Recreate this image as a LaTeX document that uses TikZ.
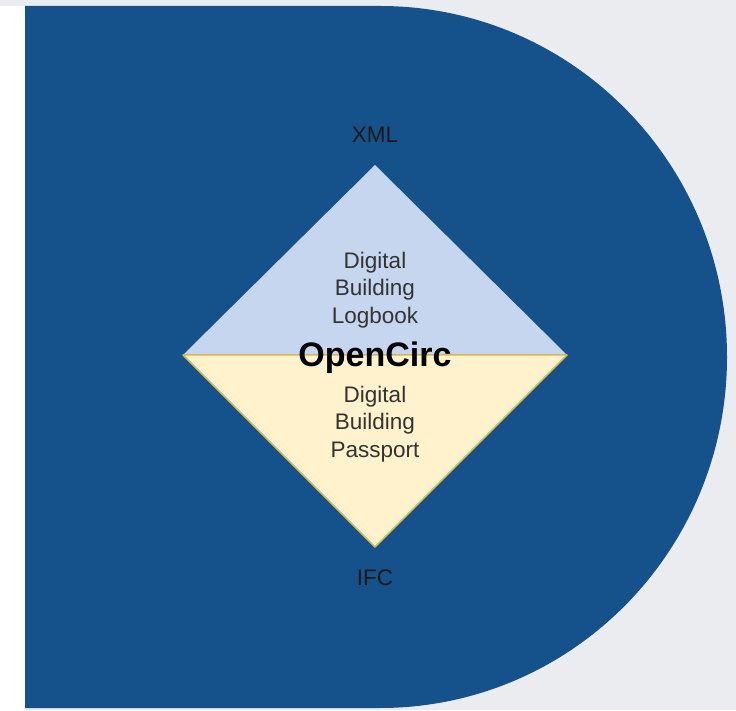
\documentclass[tikz,border=0pt]{standalone}
\usepackage{fontspec}
\setmainfont{Liberation Sans}
\usetikzlibrary{positioning,calc}
\definecolor{pagegray}{HTML}{EBECF0}
\definecolor{navy}{HTML}{15518A}
\definecolor{logblue}{HTML}{C5D6EE}
\definecolor{passyel}{HTML}{FFF2CC}
\definecolor{passedge}{HTML}{D6B656}
\definecolor{inktext}{HTML}{333333}
\tikzset{
  fmt/.style={font=\fontsize{22.5}{27.8}\selectfont,text=black!90,align=center,inner sep=0pt},
  half/.style={fmt,text=inktext},
  brand/.style={font=\fontsize{34}{40}\selectfont\bfseries,text=black,inner sep=0pt},
}

\begin{document}
\begin{tikzpicture}[x=1pt,y=1pt]
  % page and the D-shaped panel
  \fill[pagegray] (0,0) rectangle (736,710);
  \fill[white] (0,0) rectangle (25,704);
  \fill[navy] (25,2) -- (25,704) -- (380,704)
    arc[start angle=90,end angle=-90,x radius=347,y radius=351] -- cycle;
  % diamond corners
  \coordinate (dtop) at (375,545);
  \coordinate (dleft) at (183,355);
  \coordinate (dright) at (567,355);
  \coordinate (dbot) at (375,163);
  \fill[logblue] (dleft) -- (dtop) -- (dright) -- cycle;
  \filldraw[fill=passyel,draw=passedge,line width=1.5pt,line join=round]
    (dleft) -- (dright) -- (dbot) -- cycle;
  % labels
  \node[fmt] (xml) at (375,575) {XML};
  \node[fmt] (ifc) at (375,132) {IFC};
  \node[half] (logbook) at (375,420) {Digital\\Building\\Logbook};
  \node[half] (passport) at (375,286) {Digital\\Building\\Passport};
  \node[brand] (opencirc) at ($(dleft)!.5!(dright)+(0,-3)$) {OpenCirc};
\end{tikzpicture}
\end{document}
